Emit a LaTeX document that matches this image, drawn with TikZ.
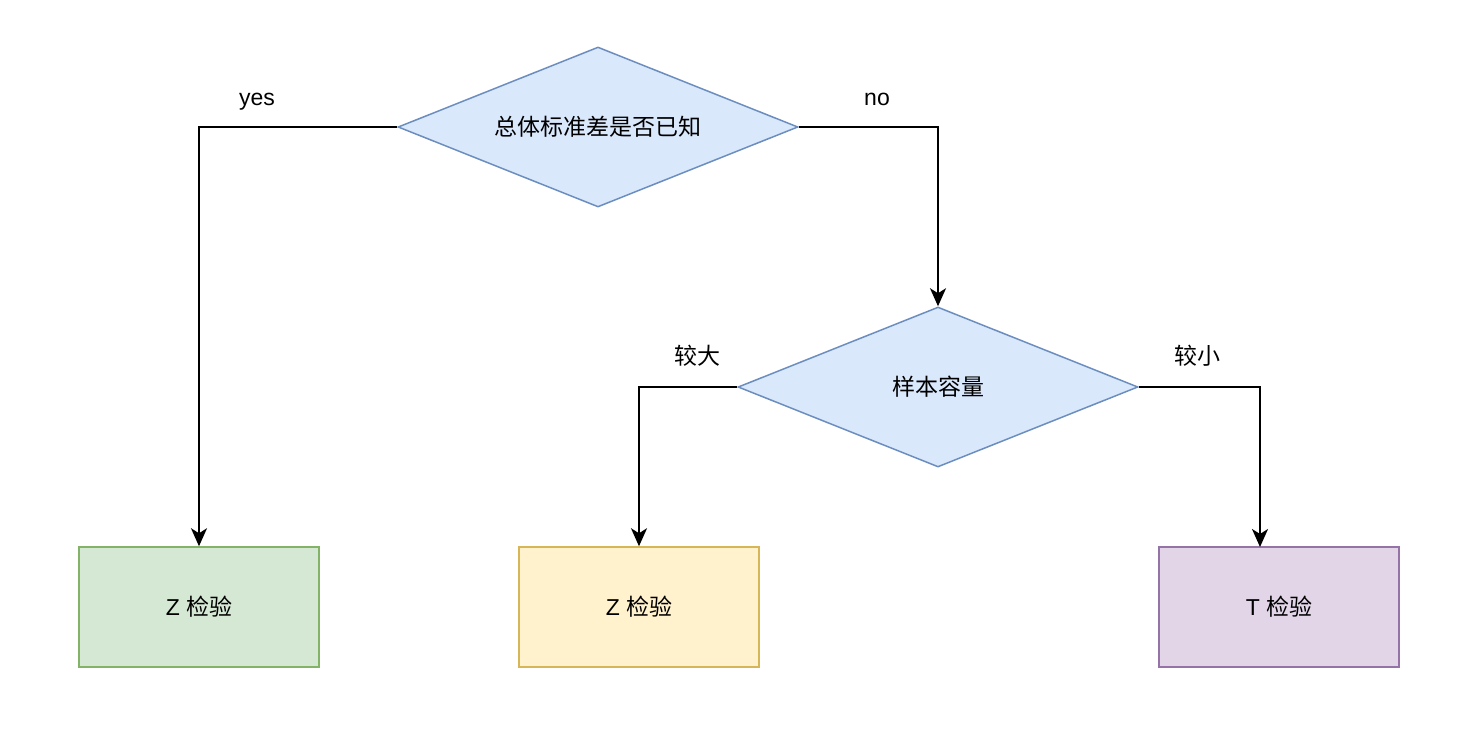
\documentclass[tikz,border=0pt]{standalone}
\usepackage{fontspec}
\setmainfont{Liberation Sans}
\newfontfamily\cjk{Noto Sans CJK SC}
\usetikzlibrary{arrows.meta,positioning,shapes.geometric}
\definecolor{blueFill}{HTML}{DAE8FC}
\definecolor{blueLine}{HTML}{6C8EBF}
\definecolor{greenFill}{HTML}{D5E8D4}
\definecolor{greenLine}{HTML}{82B366}
\definecolor{yellowFill}{HTML}{FFF2CC}
\definecolor{yellowLine}{HTML}{D6B656}
\definecolor{violetFill}{HTML}{E1D5E7}
\definecolor{violetLine}{HTML}{9673A6}
\begin{document}
\begin{tikzpicture}[x=1pt,y=-1pt,font=\fontsize{23}{27}\selectfont,
  decision/.style={diamond, aspect=2.5, inner sep=0pt, minimum width=400pt, minimum height=160pt,
    fill=blueFill, draw=blueLine, line width=1.5pt},
  result/.style={rectangle, minimum width=240pt, minimum height=120pt, line width=1.5pt},
  flow/.style={draw, line width=2pt, -{Stealth[length=18pt,width=16pt,inset=5pt]}}]
  \useasboundingbox (0,0) rectangle (1482,744);
  % decisions
  \node[decision] (known) at (598,127) {\cjk 总体标准差是否已知};
  \node[decision] (size) at (938,387) {\cjk 样本容量};
  % results
  \node[result, fill=greenFill, draw=greenLine] (zleft) at (199,607) {Z {\cjk 检验}};
  \node[result, fill=yellowFill, draw=yellowLine] (zmid) at (639,607) {Z {\cjk 检验}};
  \node[result, fill=violetFill, draw=violetLine] (ttest) at (1279,607) {T {\cjk 检验}};
  \coordinate (tin) at (1260,547);
  % connectors
  \draw[flow] (known.west) -| (zleft.north);
  \draw[flow] (known.east) -| (size.north);
  \draw[flow] (size.west) -| (zmid.north);
  \draw[flow] (size.east) -| (tin);
  % labels
  \node[anchor=base] (yes) at (257,105) {yes};
  \node[anchor=base] (no) at (877,105) {no};
  \node (large) at (697,356) {\cjk 较大};
  \node (small) at (1197,356) {\cjk 较小};
\end{tikzpicture}
\end{document}
